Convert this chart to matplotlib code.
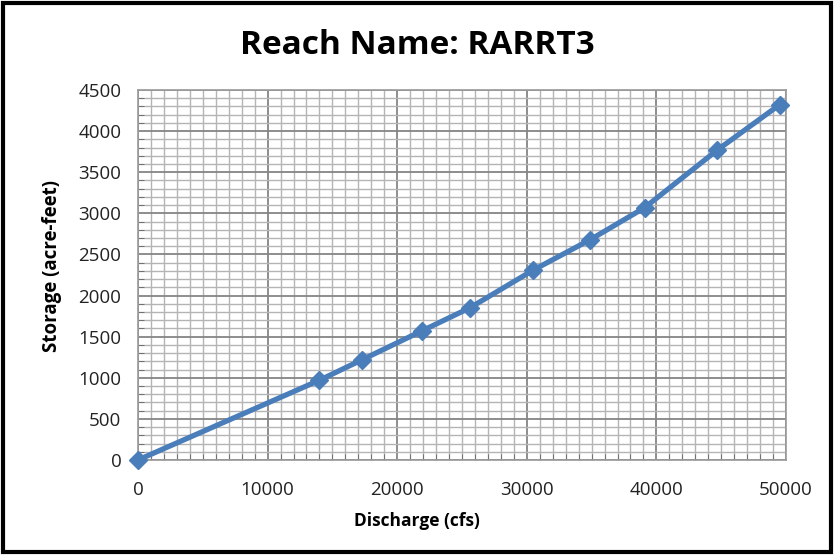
import matplotlib
matplotlib.use("Agg")
import matplotlib.pyplot as plt
from matplotlib.patches import Rectangle
from matplotlib.ticker import MultipleLocator

discharge = [0, 14000, 17300, 21900, 25600, 30500, 34900, 39100, 44700, 49500]
storage = [0, 970, 1220, 1570, 1850, 2310, 2680, 3070, 3770, 4320]
title = "Reach Name: RARRT3"
xlabel = "Discharge (cfs)"
ylabel = "Storage (acre-feet)"

plt.rcParams['font.family'] = ['Open Sans', 'DejaVu Sans']

fig = plt.figure(figsize=(8.34, 5.55), dpi=100)
ax = fig.add_axes([138/834, 1-460/555, (786-138)/834, (460-90)/555])

ax.set_xlim(0, 50000)
ax.set_ylim(0, 4500)
ax.xaxis.set_major_locator(MultipleLocator(10000))
ax.xaxis.set_minor_locator(MultipleLocator(1000))
ax.yaxis.set_major_locator(MultipleLocator(500))
ax.yaxis.set_minor_locator(MultipleLocator(100))
ax.grid(which='major', color='#858585', linewidth=1.3)
ax.grid(which='minor', color='#b4b4b4', linewidth=1.0)
ax.set_axisbelow(True)
for s in ax.spines.values():
    s.set_color('#9a9a9a')
    s.set_linewidth(1.2)
ax.tick_params(which='major', length=0, labelsize=13.5, labelcolor='#222222')
ax.tick_params(axis='x', which='major', pad=15)
ax.tick_params(axis='y', which='major', pad=12)
ax.tick_params(which='minor', direction='in', length=4, color='#666666')

ax.plot(discharge, storage, color='#4a7ebb', linewidth=3.8, marker='D',
        markersize=9, markerfacecolor='#4a7ebb', markeredgecolor='#4a7ebb',
        clip_on=False, zorder=5)

fig.text(0.5, 1-45/555, title, ha='center', va='center', fontsize=24, fontweight='bold')
fig.text(0.5, 1-521/555, xlabel, ha='center', va='center', fontsize=12.5, fontweight='bold')
fig.text(52/834, 1-266/555, ylabel, ha='center', va='center', rotation=90,
         fontsize=13.5, fontweight='bold')

fig.patches.append(Rectangle((0.004, 0.006), 0.992, 0.988, transform=fig.transFigure,
                             fill=False, edgecolor='black', linewidth=3))

fig.savefig("out.png", dpi=100)
